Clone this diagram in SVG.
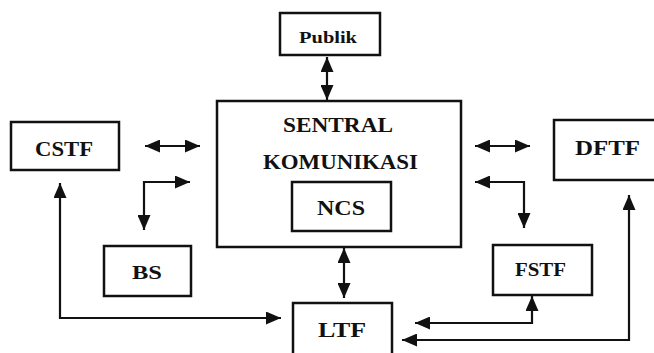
<svg xmlns="http://www.w3.org/2000/svg" width="654" height="353" viewBox="0 0 654 353">
<style>
.box{fill:#fff;stroke:#111;stroke-width:2.5}
.lbl{font-family:'Liberation Serif','DejaVu Serif',serif;font-weight:700;fill:#111}
.con{fill:none;stroke:#111;stroke-width:2.2;marker-start:url(#ah);marker-end:url(#ah)}
</style>
<defs>
<marker id="ah" viewBox="0 0 15 13" refX="15" refY="6.5" markerWidth="15" markerHeight="13" markerUnits="userSpaceOnUse" orient="auto-start-reverse">
<path d="M0,0 L15,6.5 L0,13 z" fill="#111"/>
</marker>
</defs>
<rect width="654" height="353" fill="#fff"/>
<g id="connectors">
<path class="con" d="M327,57 V100"/>
<path class="con" d="M145,146 H200"/>
<path class="con" d="M475,146 H530"/>
<path class="con" d="M190,182 H144 V230"/>
<path class="con" d="M475,182 H524 V228"/>
<path class="con" d="M344,248 V298"/>
<path class="con" d="M60,183 V318 H281"/>
<path class="con" d="M532,296 V323 H415"/>
<path class="con" d="M629,195 V340 H402"/>
</g>
<g id="publik">
<rect class="box" x="280" y="13" width="100" height="42"/>
<text class="lbl" x="299" y="43" font-size="16" textLength="58" lengthAdjust="spacingAndGlyphs">Publik</text>
</g>
<g id="sentral">
<rect class="box" x="217" y="101" width="244" height="146"/>
<text class="lbl" x="283" y="132" font-size="20" textLength="110" lengthAdjust="spacingAndGlyphs">SENTRAL</text>
<text class="lbl" x="263" y="169" font-size="20" textLength="155" lengthAdjust="spacingAndGlyphs">KOMUNIKASI</text>
</g>
<g id="ncs">
<rect class="box" x="292" y="182" width="99" height="49"/>
<text class="lbl" x="317" y="215" font-size="20" textLength="48" lengthAdjust="spacingAndGlyphs">NCS</text>
</g>
<g id="cstf">
<rect class="box" x="11" y="122" width="108" height="48"/>
<text class="lbl" x="35" y="156" font-size="20" textLength="58" lengthAdjust="spacingAndGlyphs">CSTF</text>
</g>
<g id="dftf">
<rect class="box" x="554" y="120" width="104" height="60"/>
<text class="lbl" x="575" y="155" font-size="21" textLength="65" lengthAdjust="spacingAndGlyphs">DFTF</text>
</g>
<g id="bs">
<rect class="box" x="104" y="246" width="87" height="50"/>
<text class="lbl" x="132" y="279" font-size="19" textLength="30" lengthAdjust="spacingAndGlyphs">BS</text>
</g>
<g id="fstf">
<rect class="box" x="493" y="245" width="99" height="50"/>
<text class="lbl" x="515" y="276" font-size="18" textLength="51" lengthAdjust="spacingAndGlyphs">FSTF</text>
</g>
<g id="ltf">
<rect class="box" x="293" y="303" width="99" height="60"/>
<text class="lbl" x="318" y="337" font-size="20" textLength="48" lengthAdjust="spacingAndGlyphs">LTF</text>
</g>
</svg>
